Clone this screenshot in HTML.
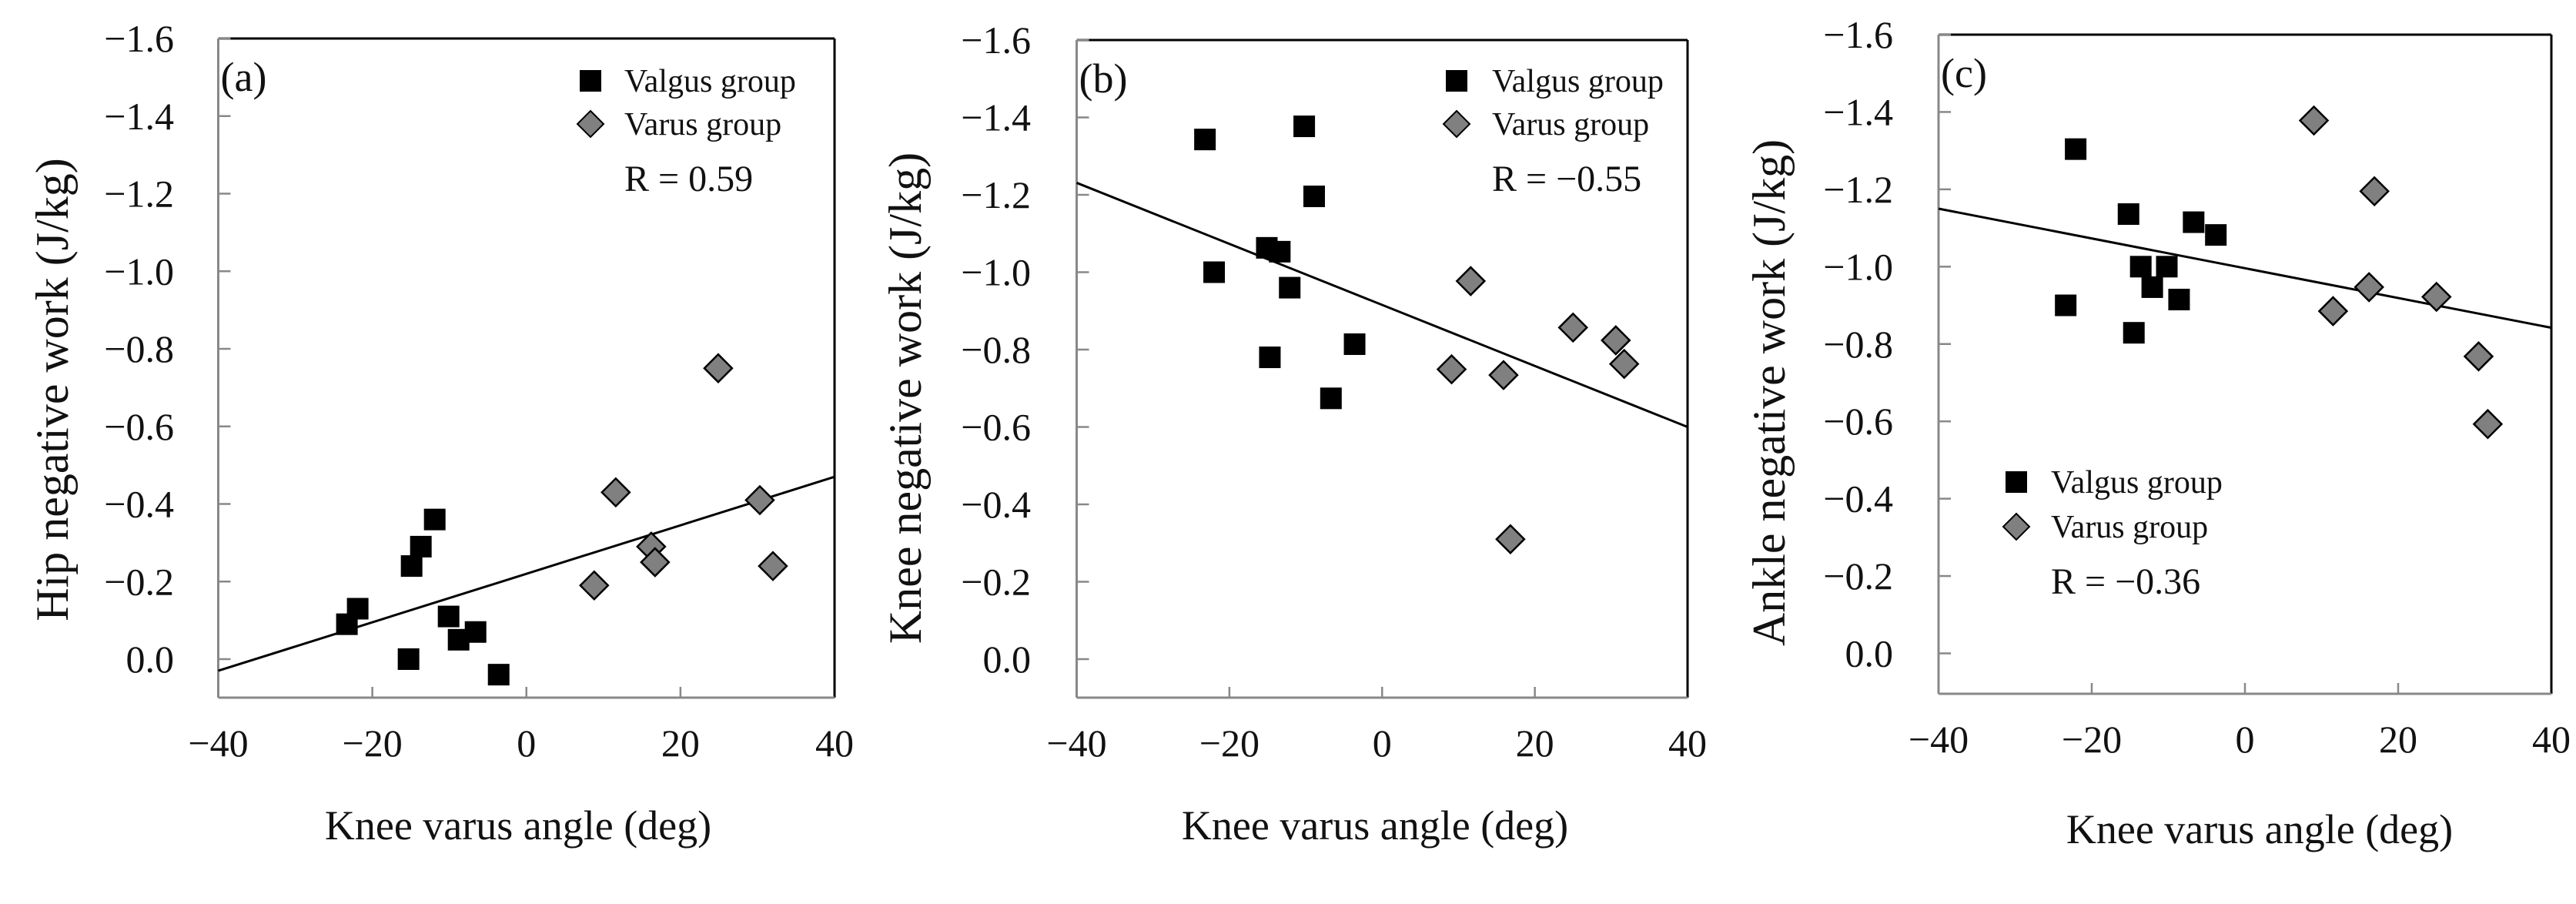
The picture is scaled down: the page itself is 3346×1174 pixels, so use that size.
<!DOCTYPE html>
<html><head><meta charset="utf-8"><style>
html,body{margin:0;padding:0;background:#fff;}
svg{display:block;font-family:"Liberation Serif",serif;}
</style></head><body>
<svg id="fig" width="3346" height="1174" viewBox="0 0 3346 1174" xmlns="http://www.w3.org/2000/svg"></svg>
<script>
// Panel (a) hip
const hipValgusX = [-23.3,-21.9,-14.9,-13.7,-11.9,-15.3,-10.1,-8.8,-6.6,-3.6];
const hipValgusY = [-0.09,-0.13,-0.24,-0.29,-0.36,0.00,-0.11,-0.05,-0.07,0.04];
const hipVarusX = [8.8,11.6,16.2,16.7,24.9,30.3,32.0];
const hipVarusY = [-0.19,-0.43,-0.29,-0.25,-0.75,-0.41,-0.24];
const hipFit = [0.03,-0.47];
// Panel (b) knee
const kneeValgusX = [-23.2,-22.0,-10.2,-8.9,-15.1,-13.4,-12.1,-14.7,-3.6,-6.7];
const kneeValgusY = [-1.343,-1.0,-1.377,-1.196,-1.063,-1.053,-0.96,-0.78,-0.814,-0.674];
const kneeVarusX = [11.6,9.1,15.9,16.8,25.0,30.6,31.7];
const kneeVarusY = [-0.977,-0.749,-0.734,-0.310,-0.857,-0.824,-0.763];
const kneeFit = [-1.231,-0.60];
// Panel (c) ankle
const ankleValgusX = [-22.1,-23.4,-15.2,-14.5,-13.6,-12.1,-10.2,-8.6,-6.7,-3.8];
const ankleValgusY = [-1.304,-0.90,-1.136,-0.829,-1.0,-0.947,-1.0,-0.915,-1.115,-1.082];
const ankleVarusX = [9.0,16.9,11.5,16.2,25.0,30.5,31.7];
const ankleVarusY = [-1.378,-1.195,-0.885,-0.947,-0.922,-0.768,-0.593];
const ankleFit = [-1.15,-0.842];
const xTicks = [-40,-20,0,20,40];
const yTicks = [-1.6,-1.4,-1.2,-1.0,-0.8,-0.6,-0.4,-0.2,0.0];
const fitX = [-40,40];

const NS="http://www.w3.org/2000/svg";
const svg=document.getElementById('fig');
function mk(tag,attrs,parent){const e=document.createElementNS(NS,tag);for(const k in attrs)e.setAttribute(k,attrs[k]);(parent||svg).appendChild(e);return e;}
function fmt(v){const s=Math.abs(v).toFixed(1);return (v<-1e-9?'\u2212':'')+s;}

const panels=[
 {id:'a',L:283.5,R:1084,T:50,y0:856,B:906,tickR:226,ytitle:'Hip negative work (J/kg)',ytx:68,yty:506,xtx:673,xty:1090,xlab:982,
  vx:hipValgusX,vy:hipValgusY,rx:hipVarusX,ry:hipVarusY,fit:hipFit,
  leg:{sx:767,sy:105,tx:811,vy:161,ry:231,rtext:'R = 0.59'}},
 {id:'b',L:1398.5,R:2192,T:52,y0:856,B:906,tickR:1339,ytitle:'Knee negative work (J/kg)',ytx:1176,yty:517,xtx:1786,xty:1090,xlab:982,
  vx:kneeValgusX,vy:kneeValgusY,rx:kneeVarusX,ry:kneeVarusY,fit:kneeFit,
  leg:{sx:1892,sy:105,tx:1938,vy:161,ry:231,rtext:'R =  \u22120.55'}},
 {id:'c',L:2518,R:3314,T:45,y0:848.5,B:901,tickR:2459,ytitle:'Ankle negative work (J/kg)',ytx:2298,yty:510,xtx:2935,xty:1095,xlab:977,
  vx:ankleValgusX,vy:ankleValgusY,rx:ankleVarusX,ry:ankleVarusY,fit:ankleFit,
  leg:{sx:2619,sy:626,tx:2664,vy:684,ry:754,rtext:'R = \u22120.36'}}
];

panels.forEach(p=>{
  const g=mk('g',{});
  
  
  const xs=v=>p.L+(v+40)/80*(p.R-p.L);
  const ys=v=>p.y0+(v/1.6)*(p.y0-p.T);
  const top=mk('line',{x1:p.L,y1:p.T,x2:p.R,y2:p.T,stroke:'#000','stroke-width':3},g);
  
  const right=mk('line',{x1:p.R,y1:p.T,x2:p.R,y2:p.B,stroke:'#000','stroke-width':3},g);
  
  const yax=mk('line',{x1:p.L,y1:p.T,x2:p.L,y2:p.B,stroke:'#888','stroke-width':3},g);
  
  const xax=mk('line',{x1:p.L,y1:p.B,x2:p.R,y2:p.B,stroke:'#888','stroke-width':3},g);
  
  yTicks.forEach(t=>{
    const y=ys(t);
    const tk=mk('line',{x1:p.L,y1:y,x2:p.L+16,y2:y,stroke:'#888','stroke-width':2.5},g);
    
    const tl=mk('text',{x:p.tickR,y:y+17,'text-anchor':'end','font-size':50,fill:'#111'},g);
    tl.textContent=fmt(t);
    
  });
  xTicks.forEach(t=>{
    const x=xs(t);
    if(t>-40&&t<40){const tk=mk('line',{x1:x,y1:p.B,x2:x,y2:p.B-14,stroke:'#888','stroke-width':2.5},g);
      }
    const tl=mk('text',{x:x,y:p.xlab,'text-anchor':'middle','font-size':50,fill:'#111'},g);
    tl.textContent=t<0?'\u2212'+Math.abs(t):String(t);
    
  });
  const xt=mk('text',{x:p.xtx,y:p.xty,'text-anchor':'middle','font-size':54,fill:'#111'},g);
  xt.textContent='Knee varus angle (deg)';
  
  const yt=mk('text',{x:p.ytx,y:p.yty,'text-anchor':'middle','font-size':60,fill:'#111',transform:`rotate(-90 ${p.ytx} ${p.yty})`,dy:20},g);
  yt.textContent=p.ytitle;
  
  const pl=mk('text',{x:p.L+3,y:p.T+68,'font-size':54,fill:'#111'},g);
  pl.textContent='('+p.id+')';
  
  const fl=mk('line',{x1:xs(fitX[0]),y1:ys(p.fit[0]),x2:xs(fitX[1]),y2:ys(p.fit[1]),stroke:'#000','stroke-width':3},g);
  
  p.vx.forEach((v,i)=>{
    const r=mk('rect',{x:xs(v)-14,y:ys(p.vy[i])-14,width:28,height:28,fill:'#000'},g);
    
  });
  p.rx.forEach((v,i)=>{
    const cx=xs(v),cy=ys(p.ry[i]),s=18;
    const d=mk('polygon',{points:`${cx},${cy-s} ${cx+s},${cy} ${cx},${cy+s} ${cx-s},${cy}`,fill:'#808080',stroke:'#000','stroke-width':2.5},g);
    
  });
  const lg=p.leg;
  const ls=mk('rect',{x:lg.sx-14,y:lg.sy-14,width:28,height:28,fill:'#000'},g);
  
  const lt1=mk('text',{x:lg.tx,y:lg.sy+14,'font-size':42,fill:'#111'},g);
  lt1.textContent='Valgus group';
  
  const s=17,cx=lg.sx,cy=lg.vy;
  const ld=mk('polygon',{points:`${cx},${cy-s} ${cx+s},${cy} ${cx},${cy+s} ${cx-s},${cy}`,fill:'#808080',stroke:'#000','stroke-width':2},g);
  
  const lt2=mk('text',{x:lg.tx,y:lg.vy+14,'font-size':42,fill:'#111'},g);
  lt2.textContent='Varus group';
  
  const rt=mk('text',{x:lg.tx,y:lg.ry+17,'font-size':48,fill:'#111','xml:space':'preserve'},g);
  rt.textContent=lg.rtext;
  
});
</script>
</body></html>
